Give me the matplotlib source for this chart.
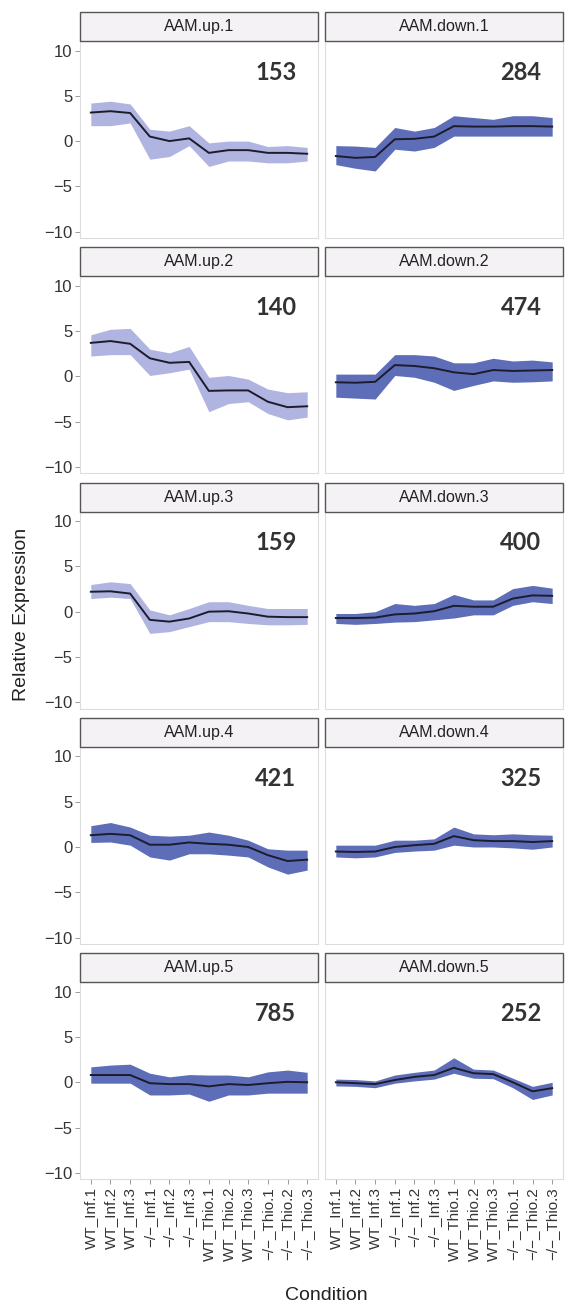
import matplotlib
matplotlib.use("Agg")
import matplotlib.pyplot as plt
from matplotlib.patches import Rectangle

plt.rcParams['font.family'] = ['Liberation Sans', 'DejaVu Sans']

conditions = ["WT_Inf.1", "WT_Inf.2", "WT_Inf.3",
              "\u2212/\u2212_Inf.1", "\u2212/\u2212_Inf.2", "\u2212/\u2212_Inf.3",
              "WT_Thio.1", "WT_Thio.2", "WT_Thio.3",
              "\u2212/\u2212_Thio.1", "\u2212/\u2212_Thio.2", "\u2212/\u2212_Thio.3"]

panel_names = ["AAM.up.1", "AAM.down.1", "AAM.up.2", "AAM.down.2", "AAM.up.3",
               "AAM.down.3", "AAM.up.4", "AAM.down.4", "AAM.up.5", "AAM.down.5"]
gene_counts = [153, 284, 140, 474, 159, 400, 421, 325, 785, 252]

# mean profile (black line) and spread of the gene lines (blue band)
up1_mean = [3.15, 3.3, 3.1, 0.5, 0.0, 0.3, -1.3, -1.0, -1.0, -1.3, -1.3, -1.4]
up1_hi = [4.2, 4.4, 4.1, 1.3, 1.1, 1.7, -0.2, 0.0, 0.0, -0.6, -0.5, -0.7]
up1_lo = [1.7, 1.7, 2.0, -2.0, -1.7, -0.5, -2.8, -2.2, -2.2, -2.4, -2.4, -2.2]

down1_mean = [-1.65, -1.85, -1.75, 0.2, 0.25, 0.5, 1.65, 1.6, 1.6, 1.65, 1.65, 1.6]
down1_hi = [-0.5, -0.55, -0.7, 1.5, 1.1, 1.5, 2.8, 2.6, 2.4, 2.8, 2.8, 2.6]
down1_lo = [-2.6, -3.0, -3.3, -0.9, -1.1, -0.7, 0.55, 0.55, 0.55, 0.55, 0.55, 0.55]

up2_mean = [3.7, 3.9, 3.6, 2.0, 1.5, 1.6, -1.6, -1.55, -1.55, -2.8, -3.4, -3.3]
up2_hi = [4.6, 5.2, 5.3, 3.0, 2.6, 3.3, -0.1, 0.1, -0.3, -1.4, -1.8, -1.7]
up2_lo = [2.25, 2.4, 2.4, 0.1, 0.4, 0.8, -3.9, -3.0, -2.8, -4.1, -4.8, -4.5]

down2_mean = [-0.65, -0.7, -0.6, 1.25, 1.15, 0.9, 0.45, 0.25, 0.7, 0.6, 0.65, 0.7]
down2_hi = [0.25, 0.25, 0.25, 2.4, 2.4, 2.25, 1.5, 1.5, 2.0, 1.7, 1.8, 1.6]
down2_lo = [-2.3, -2.4, -2.5, 0.1, -0.1, -0.65, -1.55, -1.0, -0.5, -0.65, -0.6, -0.5]

up3_mean = [2.2, 2.25, 2.0, -0.9, -1.1, -0.75, 0.0, 0.05, -0.2, -0.55, -0.6, -0.6]
up3_hi = [3.0, 3.3, 3.1, 0.2, -0.35, 0.35, 1.1, 1.1, 0.7, 0.35, 0.35, 0.35]
up3_lo = [1.45, 1.6, 1.45, -2.4, -2.2, -1.65, -1.1, -1.1, -1.3, -1.45, -1.45, -1.4]

down3_mean = [-0.7, -0.7, -0.65, -0.3, -0.2, 0.05, 0.65, 0.55, 0.55, 1.45, 1.8, 1.75]
down3_hi = [-0.2, -0.2, 0.0, 0.9, 0.7, 0.9, 1.9, 1.3, 1.3, 2.55, 2.9, 2.6]
down3_lo = [-1.3, -1.4, -1.3, -1.15, -1.1, -0.9, -0.7, -0.35, -0.35, 0.7, 1.1, 0.9]

up4_mean = [1.3, 1.45, 1.3, 0.25, 0.25, 0.5, 0.35, 0.25, 0.0, -0.9, -1.55, -1.4]
up4_hi = [2.35, 2.7, 2.2, 1.3, 1.2, 1.3, 1.65, 1.3, 0.75, -0.2, -0.35, -0.35]
up4_lo = [0.5, 0.55, 0.2, -1.1, -1.45, -0.75, -0.75, -0.9, -1.1, -2.2, -3.0, -2.55]

down4_mean = [-0.5, -0.55, -0.5, 0.0, 0.2, 0.35, 1.2, 0.75, 0.65, 0.65, 0.55, 0.65]
down4_hi = [0.2, 0.2, 0.2, 0.75, 0.75, 0.9, 2.2, 1.45, 1.35, 1.45, 1.35, 1.3]
down4_lo = [-1.1, -1.2, -1.1, -0.6, -0.45, -0.35, 0.2, 0.0, 0.0, -0.1, -0.25, 0.0]

up5_mean = [0.8, 0.8, 0.8, -0.1, -0.2, -0.2, -0.45, -0.2, -0.3, -0.1, 0.05, 0.0]
up5_hi = [1.7, 1.9, 2.0, 1.0, 0.6, 0.85, 0.8, 0.8, 0.6, 1.15, 1.35, 1.1]
up5_lo = [-0.1, -0.1, -0.1, -1.4, -1.4, -1.3, -2.1, -1.4, -1.4, -1.2, -1.2, -1.2]

down5_mean = [0.0, -0.1, -0.2, 0.25, 0.6, 0.8, 1.6, 1.0, 0.9, 0.0, -1.0, -0.65]
down5_hi = [0.35, 0.3, 0.15, 0.8, 1.1, 1.35, 2.7, 1.45, 1.35, 0.45, -0.45, 0.0]
down5_lo = [-0.4, -0.45, -0.6, -0.1, 0.15, 0.35, 1.0, 0.45, 0.4, -0.6, -1.9, -1.4]

means = [up1_mean, down1_mean, up2_mean, down2_mean, up3_mean,
         down3_mean, up4_mean, down4_mean, up5_mean, down5_mean]
his = [up1_hi, down1_hi, up2_hi, down2_hi, up3_hi,
       down3_hi, up4_hi, down4_hi, up5_hi, down5_hi]
los = [up1_lo, down1_lo, up2_lo, down2_lo, up3_lo,
       down3_lo, up4_lo, down4_lo, up5_lo, down5_lo]

W, H = 566, 1305
fig = plt.figure(figsize=(W / 100, H / 100), dpi=100)

col_left = [80, 325]
panel_w = 238
strip_h = 29
panel_h = 197
row_pitch = 235.3
x = list(range(len(conditions)))

for i, name in enumerate(panel_names):
    row, col = i // 2, i % 2
    strip_top = 12 + row * row_pitch
    panel_top = strip_top + strip_h
    ax = fig.add_axes([col_left[col] / W, (H - panel_top - panel_h) / H,
                       panel_w / W, panel_h / H])
    sparse = gene_counts[i] < 200
    ax.fill_between(x, los[i], his[i], color="#7c82cc" if sparse else "#5061b2",
                    alpha=0.6 if sparse else 0.92, linewidth=0)
    ax.plot(x, means[i], color="#1c1c2c", linewidth=1.4)
    ax.text(10.45, 7.6, str(gene_counts[i]), ha="right", va="center",
            fontsize=17, fontweight="bold", color="#333333", family="Lato")
    ax.set_xlim(-0.55, 11.55)
    ax.set_ylim(-10.7, 11.05)
    ax.set_yticks([-10, -5, 0, 5, 10])
    ax.set_xticks(x)
    for s in ax.spines.values():
        s.set_color("#dddddd")
        s.set_linewidth(0.8)
    ax.tick_params(color="#999999", length=3.5, width=0.7, labelsize=12,
                   labelcolor="#333333", pad=2)
    if col == 0:
        ax.set_yticklabels(["\u221210", "\u22125", "0", "5", "10"])
    else:
        ax.tick_params(axis="y", left=False, labelleft=False)
    if row == 4:
        ax.set_xticklabels(conditions, rotation=90, fontsize=11)
    else:
        ax.tick_params(axis="x", bottom=False, labelbottom=False)

    # strip header
    sax = fig.add_axes([col_left[col] / W, (H - strip_top - strip_h) / H,
                        panel_w / W, strip_h / H])
    sax.set_xlim(0, 1)
    sax.set_ylim(0, 1)
    sax.axis("off")
    sax.add_patch(Rectangle((0, 0), 1, 1, facecolor="#f5f2f5", edgecolor="#555555",
                            linewidth=1.0, transform=sax.transAxes, clip_on=False))
    sax.text(0.5, 0.5, name, ha="center", va="center", fontsize=11.5, color="#222222")

fig.text(22 / W, 1 - 614 / H, "Relative Expression", rotation=90, ha="center",
         va="center", fontsize=14, color="#222222")
fig.text(326 / W, 1 - 1296 / H, "Condition", ha="center", va="center",
         fontsize=14, color="#222222")

fig.savefig("out.png", dpi=100)
